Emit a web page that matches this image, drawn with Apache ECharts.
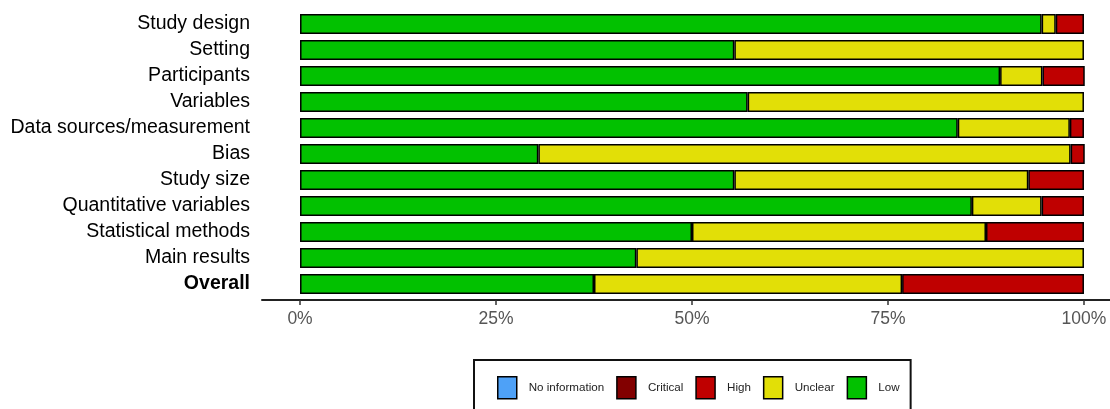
<!DOCTYPE html>
<html>
<head>
<meta charset="utf-8">
<script src="https://cdn.jsdelivr.net/npm/echarts@6/dist/echarts.min.js"></script>
<style>
html,body{margin:0;padding:0;background:#fff;}
#chart{width:1110px;height:409px;}
</style>
</head>
<body>
<div id="chart"></div>
<script>
const categories = ["Study design","Setting","Participants","Variables","Data sources/measurement","Bias","Study size","Quantitative variables","Statistical methods","Main results","Overall"];
const low      = [94.6, 55.4, 89.3, 57.1, 83.9, 30.4, 55.4, 85.7, 50.0, 42.9, 37.5];
const unclear  = [1.8, 44.6, 5.4, 42.9, 14.3, 67.9, 37.5, 8.9, 37.5, 57.1, 39.3];
const high     = [3.6, 0, 5.4, 0, 1.8, 1.8, 7.1, 5.4, 12.5, 0, 23.2];
const critical = [0, 0, 0, 0, 0, 0, 0, 0, 0, 0, 0];
const noInfo   = [0, 0, 0, 0, 0, 0, 0, 0, 0, 0, 0];
const tickValues = [0, 25, 50, 75, 100];
const legendOrder = ["No information","Critical","High","Unclear","Low"];

const colors = {"Low":"#02C100","Unclear":"#E2DF07","High":"#BF0000","Critical":"#820000","No information":"#4EA1F7"};
const font = "'Liberation Sans', Arial, Helvetica, sans-serif";

function mk(name, arr){
  return {
    name: name, type: 'bar', stack: 'all', barWidth: 20,
    itemStyle: {color: colors[name], borderColor: '#000', borderWidth: 1.5},
    emphasis: {disabled: true},
    data: arr.map(v => v === 0 ? '-' : v)
  };
}

const chart = echarts.init(document.getElementById('chart'), null, {renderer:'canvas'});
chart.setOption({
  animation: false,
  backgroundColor: '#fff',
  grid: {left: 262, right: 0, top: 11, bottom: 112, containLabel: false},
  xAxis: {
    type: 'value', min: -4.85, max: 103.32, offset: 3,
    splitLine: {show: false},
    axisLine: {show: true, onZero: false, lineStyle: {color: '#222', width: 2}},
    axisTick: {show: true, customValues: tickValues, length: 5, lineStyle: {color: '#333', width: 1.5}},
    axisLabel: {show: true, customValues: tickValues, formatter: v => v + '%', color: '#555', fontSize: 17.5, fontFamily: font, margin: 10}
  },
  yAxis: {
    type: 'category', data: categories, inverse: true,
    axisLine: {show: false}, axisTick: {show: false},
    axisLabel: {
      interval: 0,
      color: '#000', fontSize: 19.5, fontFamily: font, margin: 12,
      formatter: v => v === 'Overall' ? '{b|' + v + '}' : v,
      rich: {b: {fontWeight: 'bold', fontSize: 19.5, fontFamily: font, color: '#000'}}
    }
  },
  legend: {
    data: legendOrder,
    left: 474, top: 360,
    orient: 'horizontal',
    padding: [16, 11, 30, 23],
    itemGap: 12, itemWidth: 19, itemHeight: 22,
    borderColor: '#111', borderWidth: 2,
    icon: 'rect',
    itemStyle: {borderColor: '#000', borderWidth: 1.5},
    textStyle: {color: '#222', fontSize: 11.6, fontFamily: font, padding: [0, 0, 0, 7]},
    selectedMode: false
  },
  series: [mk('Low', low), mk('Unclear', unclear), mk('High', high), mk('Critical', critical), mk('No information', noInfo)]
});
</script>
</body>
</html>
